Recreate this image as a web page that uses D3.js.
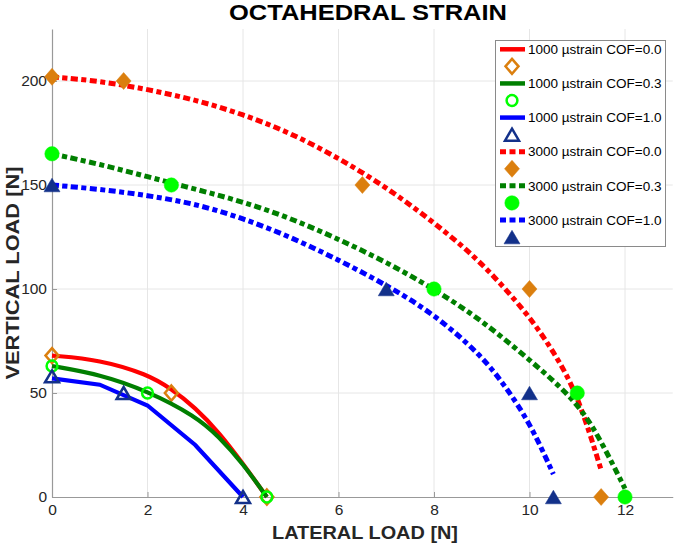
<!DOCTYPE html>
<html>
<head>
<meta charset="utf-8">
<script src="https://cdn.jsdelivr.net/npm/d3@7"></script>
<style>
  body { margin: 0; background: #fff; }
  svg { display: block; font-family: "Liberation Sans", Arial, sans-serif; }
</style>
</head>
<body>
<svg id="chart" width="675" height="546"></svg>
<script>
// ---- data ----
const xTicks = [0, 2, 4, 6, 8, 10, 12];
const yTicks = [0, 50, 100, 150, 200];

// fitted curves (lateral, vertical)
const line1000cof0 = [[0, 68], [1, 66], [2, 59], [2.5, 52], [3, 43], [3.5, 31], [4, 16], [4.5, 0]];
const line1000cof3 = [[0, 63], [1, 59], [2, 51], [3, 39], [3.5, 29], [4, 16], [4.5, 0]];
const line1000cof1 = [[0, 57], [1, 54], [2, 44], [3, 25], [4, 0]];
const line3000cof0 = [[0, 202], [1, 200], [2, 196], [3, 191], [4, 184], [5, 175], [6, 163], [7, 149], [8, 132], [9, 113], [10, 87], [10.5, 70], [11, 50], [11.5, 13]];
const line3000cof3 = [[0, 165], [1, 160], [2, 154], [3, 148], [4, 142], [5, 134], [6, 124], [7, 113], [8, 100], [9, 85], [10, 66], [11, 46], [11.5, 27], [12, 4]];
const line3000cof1 = [[0, 150], [1, 148], [2, 145], [3, 141], [4, 134], [5, 125], [6, 114], [7, 102], [8, 88], [9, 68], [9.5, 53], [10, 36], [10.5, 11]];

// measured points
const pts1000cof0 = [[0, 68], [2.5, 50], [4.5, 0]];
const pts1000cof3 = [[0, 63], [2, 50], [4.5, 0]];
const pts1000cof1 = [[0, 58], [1.5, 50], [4, 0]];
const pts3000cof0 = [[0, 202], [1.5, 200], [6.5, 150], [10, 100], [11.5, 0]];
const pts3000cof3 = [[0, 165], [2.5, 150], [8, 100], [11, 50], [12, 0]];
const pts3000cof1 = [[0, 150], [7, 100], [10, 50], [10.5, 0]];

const seriesNames = [
  '1000 µstrain COF=0.0', '1000 µstrain COF=0.3', '1000 µstrain COF=1.0',
  '3000 µstrain COF=0.0', '3000 µstrain COF=0.3', '3000 µstrain COF=1.0'
];

// ---- styles ----
const ORANGE = '#db7f0e', LIME = '#00ff00', NAVY = '#13318a';
const series = [
  {name: seriesNames[0], line: line1000cof0, pts: pts1000cof0, color: '#ff0000', dotted: false, shape: 'diamond', fill: false, mcolor: ORANGE, curve: d3.curveBasis},
  {name: seriesNames[1], line: line1000cof3, pts: pts1000cof3, color: '#007f00', dotted: false, shape: 'circle', fill: false, mcolor: LIME, curve: d3.curveBasis},
  {name: seriesNames[2], line: line1000cof1, pts: pts1000cof1, color: '#0000ff', dotted: false, shape: 'triangle', fill: false, mcolor: NAVY, curve: d3.curveLinear},
  {name: seriesNames[3], line: line3000cof0, pts: pts3000cof0, color: '#ff0000', dotted: true, shape: 'diamond', fill: true, mcolor: ORANGE, curve: d3.curveBasis},
  {name: seriesNames[4], line: line3000cof3, pts: pts3000cof3, color: '#007f00', dotted: true, shape: 'circle', fill: true, mcolor: LIME, curve: d3.curveBasis},
  {name: seriesNames[5], line: line3000cof1, pts: pts3000cof1, color: '#0000ff', dotted: true, shape: 'triangle', fill: true, mcolor: NAVY, curve: d3.curveBasis}
];

const svg = d3.select('#chart');
const plot = {left: 52, right: 672.75, top: 29, bottom: 497};

const x = d3.scaleLinear().domain([0, 13]).range([plot.left, plot.right]);
const y = d3.scaleLinear().domain([0, 225]).range([plot.bottom, plot.top]);

// grid
svg.append('g').selectAll('line')
  .data(xTicks.filter(d => d > 0))
  .join('line')
  .attr('x1', d => x(d)).attr('x2', d => x(d))
  .attr('y1', plot.top).attr('y2', plot.bottom)
  .attr('stroke', '#e6e6e6').attr('stroke-width', 1);
svg.append('g').selectAll('line')
  .data(yTicks.filter(d => d > 0))
  .join('line')
  .attr('x1', plot.left).attr('x2', plot.right)
  .attr('y1', d => y(d)).attr('y2', d => y(d))
  .attr('stroke', '#e6e6e6').attr('stroke-width', 1);

// axes
const xAxis = svg.append('g')
  .attr('transform', `translate(0,${plot.bottom})`)
  .call(d3.axisBottom(x).tickValues(xTicks).tickSize(-5).tickPadding(7).tickSizeOuter(0));
const yAxis = svg.append('g')
  .attr('transform', `translate(${plot.left},0)`)
  .call(d3.axisLeft(y).tickValues(yTicks).tickSize(-5).tickPadding(5).tickSizeOuter(0));

[xAxis, yAxis].forEach(a => {
  a.select('.domain').attr('stroke', '#999').attr('stroke-width', 1.2);
  a.selectAll('.tick line').attr('stroke', '#999');
  a.selectAll('.tick text')
    .attr('fill', '#262626')
    .style('font-size', '15.5px')
    .style('font-family', '"Liberation Sans", Arial, sans-serif');
});

// lines + markers
const lineGen = d3.line().x(d => x(d[0])).y(d => y(d[1]));

function markerPath(shape, filled) {
  const p = d3.path();
  if (shape === 'diamond') {
    const w = filled ? 7.5 : 6.5, h = filled ? 8.5 : 7.5;
    p.moveTo(0, -h); p.lineTo(w, 0); p.lineTo(0, h); p.lineTo(-w, 0); p.closePath();
  } else if (shape === 'triangle') {
    const w = filled ? 8 : 7, h = filled ? 6.8 : 6;
    p.moveTo(0, -h); p.lineTo(w, h); p.lineTo(-w, h); p.closePath();
  } else {
    const r = filled ? 7.2 : 5.4;
    p.moveTo(r, 0); p.arc(0, 0, r, 0, 2 * Math.PI);
  }
  return p.toString();
}

function styleMarker(sel, s) {
  sel.attr('d', markerPath(s.shape, s.fill))
    .attr('fill', s.fill ? s.mcolor : 'none')
    .attr('stroke', s.mcolor)
    .attr('stroke-width', s.fill ? 0.5 : 2.5)
    .attr('stroke-linejoin', 'miter');
}

series.forEach(s => {
  svg.append('path')
    .datum(s.line)
    .attr('d', lineGen.curve(s.curve))
    .attr('fill', 'none')
    .attr('stroke', s.color)
    .attr('stroke-width', s.dotted ? 5 : 4.2)
    .attr('stroke-dasharray', s.dotted ? '7,3.5,5,3.5' : null);

  svg.append('g').selectAll('path')
    .data(s.pts)
    .join('path')
    .attr('transform', d => `translate(${x(d[0])},${y(d[1])})`)
    .call(styleMarker, s);
});

// legend
const lg = svg.append('g');
lg.append('rect')
  .attr('x', 495.5).attr('y', 40.5).attr('width', 170).attr('height', 206)
  .attr('fill', '#fff').attr('stroke', '#8a8a8a').attr('stroke-width', 1);

const rowY = i => 49.3 + 17.07 * i;
series.forEach((s, i) => {
  const ly = rowY(2 * i), my = rowY(2 * i + 1);
  lg.append('line')
    .attr('x1', 500).attr('x2', 525).attr('y1', ly).attr('y2', ly)
    .attr('stroke', s.color).attr('stroke-width', s.dotted ? 5 : 4.5)
    .attr('stroke-dasharray', s.dotted ? '6,3.5' : null);
  lg.append('text')
    .attr('x', 528).attr('y', ly).attr('dy', '0.35em')
    .attr('fill', '#000')
    .style('font-size', '13.5px')
    .text(s.name);
  lg.append('path')
    .attr('transform', `translate(512,${my})`)
    .call(styleMarker, s);
});

// titles
svg.append('text')
  .attr('x', 368).attr('y', 19.5)
  .attr('text-anchor', 'middle')
  .attr('textLength', 278).attr('lengthAdjust', 'spacingAndGlyphs')
  .style('font-size', '22px').style('font-weight', 'bold')
  .text('OCTAHEDRAL STRAIN');

svg.append('text')
  .attr('x', 365).attr('y', 539)
  .attr('text-anchor', 'middle')
  .attr('textLength', 186).attr('lengthAdjust', 'spacingAndGlyphs')
  .attr('fill', '#262626')
  .style('font-size', '19px').style('font-weight', 'bold')
  .text('LATERAL LOAD [N]');

svg.append('text')
  .attr('transform', 'translate(18.5,273) rotate(-90)')
  .attr('text-anchor', 'middle')
  .attr('textLength', 213).attr('lengthAdjust', 'spacingAndGlyphs')
  .attr('fill', '#262626')
  .style('font-size', '19px').style('font-weight', 'bold')
  .text('VERTICAL LOAD [N]');
</script>
</body>
</html>
